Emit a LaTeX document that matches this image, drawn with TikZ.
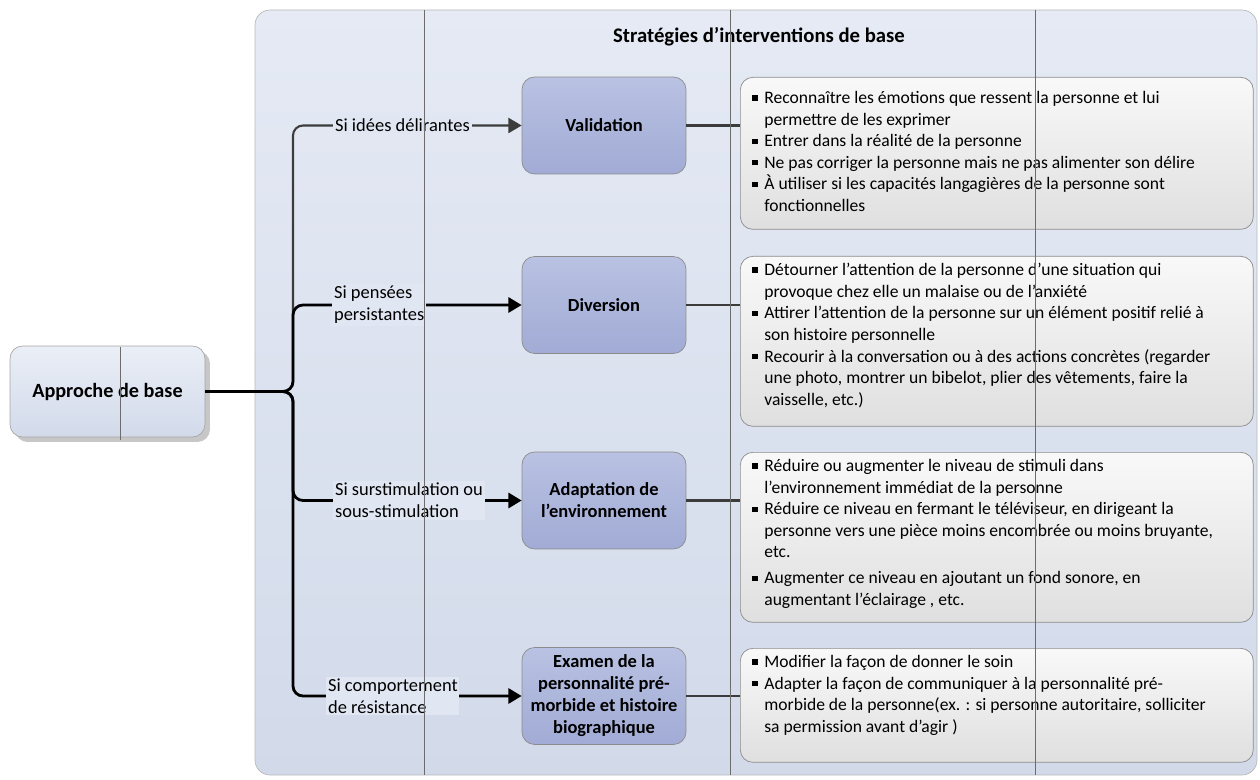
\documentclass[tikz,border=0pt]{standalone}
\usepackage{fontspec}
\setmainfont{Carlito}
\usetikzlibrary{positioning, arrows.meta, shadows}
\definecolor{fondhaut}{HTML}{E5EAF4}
\definecolor{fondbas}{HTML}{D2DAEA}
\definecolor{strathaut}{HTML}{B9C2E2}
\definecolor{stratbas}{HTML}{A1ABD5}
\definecolor{trait}{HTML}{3C3C3C}
\newcommand{\puce}{\par\hangindent=0.24cm\hangafter=1\noindent\makebox[0.24cm][l]{\raisebox{1.7pt}{\rule{3pt}{3pt}}}}
\newcommand{\bloc}[2]{\parbox[c][#1][t]{9.78cm}{\raggedright #2}}
\tikzset{
	x=0.02cm, y=-0.02cm, % one unit is one pixel of the sketch
	>={Triangle[length=7.5pt,width=8.5pt]}, % filled arrow heads
	txt/.style={font=\fontsize{10}{12.3}\selectfont}, % plain text
	cadre/.style={draw=gray!55, rounded corners=0.3cm, top color=fondhaut, bottom color=fondbas}, % the big frame
	base/.style={draw=gray!70, rounded corners=0.25cm, top color=fondhaut!80!white, bottom color=fondbas, minimum width=3.9cm, minimum height=1.82cm, font=\bfseries\fontsize{11.5}{14}\selectfont, drop shadow={shadow xshift=0.1cm, shadow yshift=-0.1cm, fill=black!22, opacity=1}}, % left box
	strat/.style={draw=gray!90, rounded corners=0.25cm, top color=strathaut, bottom color=stratbas, minimum width=3.28cm, minimum height=1.94cm, align=center, font=\bfseries\fontsize{10.5}{12.5}\selectfont}, % strategy boxes
	liste/.style={txt, draw=gray!90, rounded corners=0.25cm, top color=gray!5, bottom color=gray!25, inner xsep=0.24cm, inner ysep=0.14cm, anchor=north west}, % bullet boxes
	cond/.style={font=\fontsize{10.5}{12.6}\selectfont, fill=fondhaut!80!fondbas, inner sep=1pt, align=left, anchor=west}, % branch labels
	lien/.style={->, line width=1.6pt, rounded corners=0.2cm}, % black branches
	lien2/.style={line width=1.2pt, draw=trait, rounded corners=0.2cm}, % grey branches
	grille/.style={draw=gray!85!black, line width=0.5pt}, % thin vertical lines
}
\begin{document}
\begin{tikzpicture}
	\useasboundingbox (0,0) rectangle (1260,780);
	\draw[cadre] (255,10) rectangle (1257,775);
	\node[font=\bfseries\fontsize{11.8}{14}\selectfont] (titre) at (759,37) {Stratégies d’interventions de base};

	\node[base] (a0) at (107.5,391.5) {Approche de base};
	\coordinate (br) at (293,391.5);

	\node[strat] (s1) at (604,125.5) {Validation};
	\node[strat] (s2) at (604,305) {Diversion};
	\node[strat] (s3) at (604,500.5) {Adaptation de\\l’environnement};
	\node[strat] (s4) at (604,696) {Examen de la\\personnalité pré-\\morbide et histoire\\biographique};

	\node[liste] (d1) at (740,77) {\bloc{2.76cm}{\vspace*{0.14cm}
		\puce Reconnaître les émotions que ressent la personne et lui\newline permettre de les exprimer
		\puce Entrer dans la réalité de la personne
		\puce Ne pas corriger la personne mais ne pas alimenter son délire
		\puce À utiliser si les capacités langagières de la personne sont\newline fonctionnelles}};
	\node[liste] (d2) at (740,256) {\bloc{3.12cm}{
		\puce Détourner l’attention de la personne d’une situation qui\newline provoque chez elle un malaise ou de l’anxiété
		\puce Attirer l’attention de la personne sur un élément positif relié à\newline son histoire personnelle
		\puce Recourir à la conversation ou à des actions concrètes (regarder\newline une photo, montrer un bibelot, plier des vêtements, faire la\newline vaisselle, etc.)}};
	\node[liste] (d3) at (740,452) {\bloc{3.12cm}{
		\puce Réduire ou augmenter le niveau de stimuli dans\newline l’environnement immédiat de la personne
		\puce Réduire ce niveau en fermant le téléviseur, en dirigeant la\newline personne vers une pièce moins encombrée ou moins bruyante,\newline etc.
		\par\vspace{2.5pt}
		\puce Augmenter ce niveau en ajoutant un fond sonore, en\newline augmentant l’éclairage , etc.}};
	\node[liste] (d4) at (740,648) {\bloc{2.0cm}{
		\puce Modifier la façon de donner le soin
		\puce Adapter la façon de communiquer à la personnalité pré-\newline morbide de la personne(ex. : si personne autoritaire, solliciter\newline sa permission avant d’agir )}};

	% branches
	\draw[lien2, ->] (a0.east) -- (br) |- (s1.west);
	\draw[lien] (a0.east) -- (br) |- (s2.west);
	\draw[lien] (a0.east) -- (br) |- (s3.west);
	\draw[lien] (a0.east) -- (br) |- (s4.west);
	\foreach \i in {1,...,4}
		\draw[lien2] (s\i.east) -- (s\i.east -| d\i.west);

	\node[cond] (l1) at (333,125.5) {Si idées délirantes};
	\node[cond] (l2) at (332,305) {Si pensées\\persistantes};
	\node[cond] (l3) at (333,500.5) {Si surstimulation ou\\sous-stimulation};
	\node[cond] (l4) at (326,696) {Si comportement\\de résistance};

	% thin vertical lines
	\draw[grille] (120,347) -- (120,440);
	\foreach \x in {424,730,1035}
		\draw[grille] (\x,10) -- (\x,775);
\end{tikzpicture}
\end{document}
